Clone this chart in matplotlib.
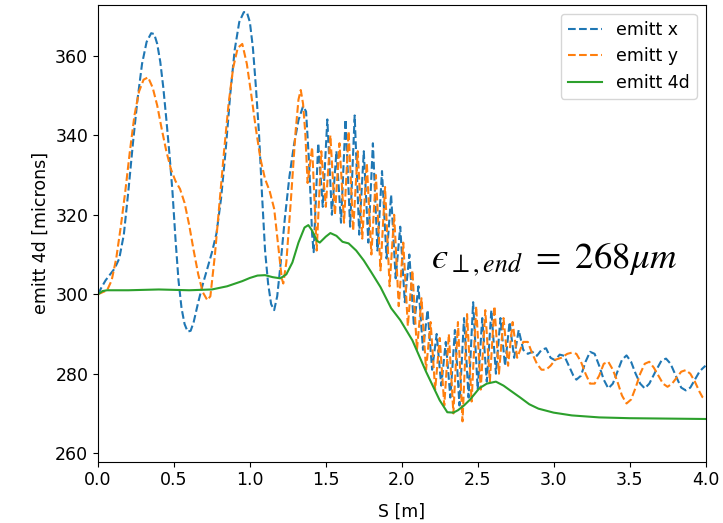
import matplotlib
matplotlib.use("Agg")
import matplotlib.pyplot as plt

plt.rcParams['mathtext.fontset'] = 'stix'

# ---- data ----
s_x = [0.00, 0.02, 0.05, 0.08, 0.11, 0.14, 0.17, 0.20, 0.23, 0.26, 0.29, 0.32, 0.35, 0.37,
       0.39, 0.41, 0.43, 0.45, 0.47, 0.49, 0.51, 0.53, 0.55, 0.57, 0.59, 0.61, 0.63, 0.66,
       0.69, 0.72, 0.75, 0.78, 0.81, 0.84, 0.87, 0.90, 0.93, 0.96, 0.98, 1.00, 1.02, 1.04,
       1.06, 1.08, 1.10, 1.12, 1.14, 1.16, 1.18, 1.20, 1.23, 1.26, 1.29, 1.32, 1.35, 1.37,
       1.39, 1.41, 1.42,
       1.45, 1.48, 1.51, 1.54, 1.57, 1.60, 1.63, 1.66, 1.69, 1.72, 1.75, 1.78, 1.81, 1.84,
       1.87, 1.90, 1.93, 1.96, 1.99, 2.02, 2.05, 2.08, 2.11, 2.14, 2.17, 2.20, 2.23, 2.26,
       2.29, 2.32, 2.35, 2.38, 2.41, 2.44, 2.47, 2.50, 2.53, 2.56, 2.59, 2.62, 2.65, 2.68,
       2.71, 2.74, 2.77,
       2.80, 2.83, 2.86, 2.89, 2.92, 2.95, 2.98, 3.01, 3.04, 3.07, 3.10, 3.13, 3.15, 3.18,
       3.21, 3.24, 3.27, 3.30, 3.33, 3.36, 3.39, 3.42, 3.45, 3.48, 3.51, 3.54, 3.57, 3.60,
       3.63, 3.67, 3.71, 3.74, 3.77, 3.81, 3.84, 3.87, 3.90, 3.93, 3.96, 3.98, 4.00]
emitt_x = [300.0, 301.5, 303.5, 305.0, 306.5, 309.0, 315.0, 326.0, 338.0, 349.0, 358.0, 363.5, 365.7, 365.5,
           363.0, 358.5, 352.0, 344.0, 335.5, 326.0, 314.0, 303.5, 296.5, 292.5, 290.6, 290.8, 293.0, 298.0,
           302.5, 306.5, 310.5, 315.3, 324.0, 336.0, 350.0, 361.5, 368.5, 371.0, 371.0, 368.5, 362.0, 352.0,
           340.5, 325.0, 311.0, 302.7, 297.5, 296.0, 299.5, 306.8, 319.0, 329.5, 337.5, 343.8, 347.3, 346.0,
           333.0, 315.0, 310.6,
           338, 322, 344, 320, 336, 318, 344, 317, 345, 315, 336, 313, 338, 311,
           331, 309, 325, 304, 317, 298, 310, 292, 302, 286, 296, 281, 290, 277,
           288, 274, 291, 272, 294, 274, 298, 276, 294, 278, 296, 280, 294, 282,
           293, 284, 291,
           286.0, 285.0, 285.5, 284.5, 286.0, 286.4, 284.0, 283.4, 284.8, 284.5, 282.0, 279.5, 278.5, 279.5,
           283.0, 285.5, 285.0, 282.0, 278.5, 276.3, 277.5, 280.5, 283.5, 284.6, 283.0, 280.0, 277.5, 276.3,
           277.5, 280.5, 283.3, 283.8, 282.5, 279.0, 276.5, 275.8, 276.5, 278.5, 280.5, 281.3, 282.0]

s_y = [0.00, 0.03, 0.06, 0.09, 0.12, 0.15, 0.18, 0.21, 0.24, 0.27, 0.30, 0.33, 0.36, 0.39,
       0.42, 0.45, 0.48, 0.51, 0.54, 0.57, 0.60, 0.63, 0.66, 0.69, 0.72, 0.74, 0.77, 0.80,
       0.83, 0.86, 0.89, 0.92, 0.95, 0.98, 1.01, 1.04, 1.07, 1.10, 1.13, 1.16, 1.19, 1.21,
       1.22, 1.24, 1.27, 1.30, 1.32, 1.335, 1.35, 1.365, 1.38,
       1.41, 1.44, 1.47, 1.50, 1.53, 1.56, 1.59, 1.62, 1.65, 1.68, 1.71, 1.74, 1.77, 1.80,
       1.83, 1.86, 1.89, 1.92, 1.95, 1.98, 2.01, 2.04, 2.07, 2.10, 2.13, 2.16, 2.19, 2.22,
       2.25, 2.28, 2.31, 2.34, 2.37, 2.40, 2.43, 2.46, 2.49, 2.52, 2.55, 2.58, 2.61, 2.64,
       2.67, 2.70, 2.73, 2.76,
       2.80, 2.83, 2.86, 2.89, 2.92, 2.95, 2.98, 3.01, 3.05, 3.09, 3.12, 3.15, 3.18, 3.21,
       3.24, 3.27, 3.30, 3.33, 3.36, 3.39, 3.42, 3.45, 3.48, 3.51, 3.54, 3.57, 3.60, 3.63,
       3.66, 3.69, 3.72, 3.75, 3.78, 3.81, 3.84, 3.87, 3.90, 3.93, 3.96, 3.98, 4.00]
emitt_y = [300.0, 300.5, 301.0, 303.5, 309.0, 317.0, 326.0, 336.0, 345.0, 351.0, 354.0, 354.6, 352.0, 347.5,
           341.5, 336.0, 331.5, 328.5, 326.5, 323.0, 317.5, 311.0, 305.0, 300.5, 298.5, 299.5, 310.0, 323.0,
           336.0, 348.0, 357.0, 362.0, 363.0, 358.0, 350.0, 341.5, 334.0, 329.0, 326.0, 321.5, 311.0, 304.0,
           302.7, 308.0, 323.7, 340.5, 349.0, 351.4, 348.0, 340.5, 328.0,
           337, 311, 336, 322, 340, 320, 338, 318, 341, 316, 336, 314, 333, 310,
           330, 306, 327, 302, 320, 297, 313, 292, 306, 286, 299, 281, 293, 276,
           289, 272, 290, 270, 293, 268, 295, 273, 297, 276, 296, 278, 297, 280,
           294, 282, 293, 284,
           288.0, 288.0, 285.0, 282.5, 281.0, 281.0, 282.0, 283.5, 284.0, 285.0, 285.3, 285.0, 283.0, 280.0,
           277.5, 277.5, 279.5, 282.5, 283.0, 281.0, 278.0, 274.5, 272.5, 273.5, 276.5, 280.0, 282.5, 283.0,
           281.5, 279.5, 277.5, 276.7, 277.5, 279.0, 280.5, 280.9, 280.0, 278.0, 275.5, 274.1, 273.5]

s_4d = [0.00, 0.03, 0.06, 0.20, 0.40, 0.60, 0.75, 0.85, 0.95, 1.00, 1.05, 1.10, 1.15, 1.20,
        1.24, 1.28, 1.32, 1.36, 1.385, 1.41, 1.44, 1.46, 1.50, 1.53, 1.57, 1.61, 1.65, 1.70,
        1.75, 1.80, 1.86, 1.93, 1.99, 2.07, 2.16, 2.25, 2.30, 2.34, 2.37, 2.41, 2.45, 2.51,
        2.56, 2.62, 2.67, 2.71, 2.78, 2.84, 2.90, 3.00, 3.12, 3.30, 3.50, 3.75, 4.00]
emitt_4d = [300.0, 300.8, 301.0, 301.0, 301.2, 301.0, 301.2, 302.0, 303.3, 304.1, 304.7, 304.8, 304.3, 304.0,
            305.0, 308.0, 313.0, 316.8, 317.4, 316.0, 313.5, 313.0, 314.5, 315.4, 314.7, 313.2, 312.8, 311.0,
            308.5, 305.5, 301.8, 296.5, 293.5, 288.4, 280.5, 273.3, 270.3, 270.2, 270.8, 272.0, 273.5, 276.3,
            277.5, 278.0, 277.0, 275.9, 274.0, 272.3, 271.2, 270.2, 269.5, 269.0, 268.8, 268.7, 268.6]

labels = ["emitt x", "emitt y", "emitt 4d"]
annotation = "$\u03f5_{\\perp,end}\\ =\\ 268\\mu m$"

# ---- figure ----
fig = plt.figure(figsize=(7.23, 5.23), dpi=100)
ax = fig.add_axes([98 / 723, 1 - 461.5 / 523, (705.5 - 98) / 723, (461.5 - 5) / 523])

ax.plot(s_x, emitt_x, '--', color='#1f77b4', lw=1.5, label=labels[0])
ax.plot(s_y, emitt_y, '--', color='#ff7f0e', lw=1.5, label=labels[1])
ax.plot(s_4d, emitt_4d, '-', color='#2ca02c', lw=1.5, label=labels[2])

ax.set_xlim(0, 4.0)
ax.set_ylim(257.9, 372.8)
ax.set_xticks([0.0, 0.5, 1.0, 1.5, 2.0, 2.5, 3.0, 3.5, 4.0])
ax.set_yticks([260, 280, 300, 320, 340, 360])
ax.tick_params(labelsize=12.5)
ax.set_xlabel("S [m]", fontsize=12.5, labelpad=10)
ax.set_ylabel("emitt 4d [microns]", fontsize=12.5)
ax.legend(loc='upper right', fontsize=12.5)
ax.text(2.19, 306.6, annotation, fontsize=26.5, va='baseline', ha='left')

fig.savefig("out.png", dpi=100)
